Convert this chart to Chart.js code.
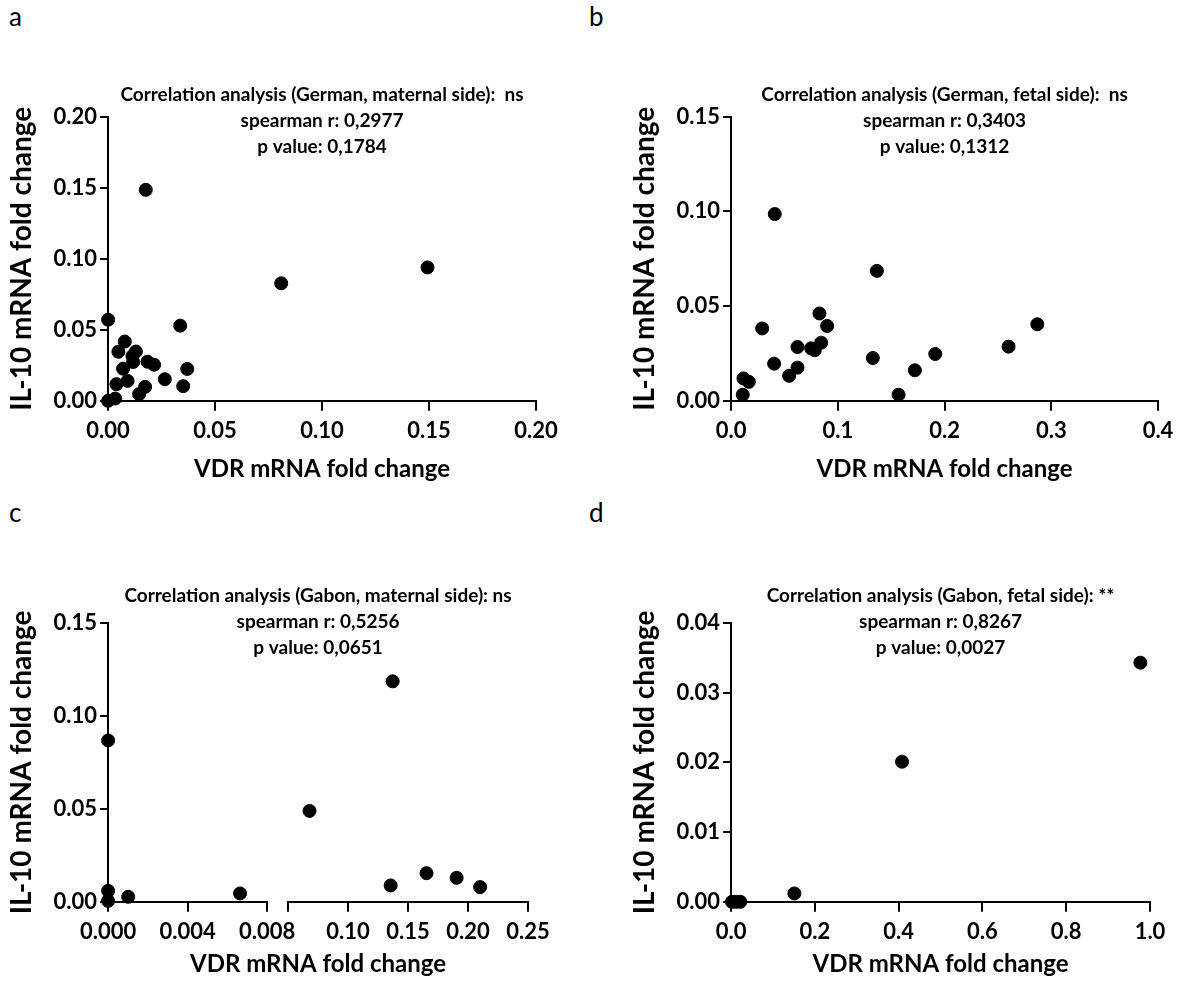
<!DOCTYPE html>
<html>
<head>
<meta charset="utf-8">
<script src="https://cdn.jsdelivr.net/npm/chart.js@4.4.1/dist/chart.umd.min.js"></script>
<style>
  body { margin: 0; background: #fff; width: 1199px; height: 982px; position: relative; overflow: hidden; }
  .panel { position: absolute; width: 595px; height: 490px; }
  .letter { position: absolute; font-family: Lato, sans-serif; font-size: 26px; color: #000; }
</style>
</head>
<body>
<div class="letter" style="left:9px;top:0px">a</div>
<div class="letter" style="left:589px;top:0px">b</div>
<div class="letter" style="left:9px;top:496px">c</div>
<div class="letter" style="left:589px;top:496px">d</div>
<div class="panel" style="left:0px;top:0px"><canvas id="chartA"></canvas></div>
<div class="panel" style="left:623px;top:0px"><canvas id="chartB"></canvas></div>
<div class="panel" style="left:0px;top:501px"><canvas id="chartC"></canvas></div>
<div class="panel" style="left:623px;top:501px"><canvas id="chartD"></canvas></div>
<script>
// Värden

let germanMaternalVdr = [0.0176, 0.1493, 0.0809, 0.0, 0.0337, 0.0078, 0.0048, 0.0130, 0.0114, 0.0117, 0.0184, 0.0215, 0.0070, 0.0370, 0.0265, 0.0091, 0.0039, 0.0351, 0.0173, 0.0145, 0.0033, 0.0]
let germanMaternalIl10 = [0.1485, 0.0939, 0.0827, 0.0571, 0.0529, 0.0417, 0.0345, 0.0347, 0.0315, 0.0273, 0.0275, 0.0254, 0.0226, 0.0224, 0.0152, 0.0140, 0.0117, 0.0103, 0.0098, 0.0047, 0.0016, 0.0]

let germanFetalVdr = [0.0409, 0.1366, 0.0828, 0.0900, 0.0291, 0.2869, 0.0844, 0.0622, 0.0750, 0.0784, 0.2600, 0.1913, 0.1328, 0.0403, 0.0622, 0.1722, 0.0544, 0.0116, 0.0166, 0.0109, 0.1569]
let germanFetalIl10 = [0.0986, 0.0686, 0.0461, 0.0395, 0.0382, 0.0404, 0.0307, 0.0284, 0.0277, 0.0267, 0.0286, 0.0247, 0.0226, 0.0196, 0.0175, 0.0161, 0.0132, 0.0118, 0.0100, 0.0032, 0.0032]

let gabonMaternalVdr = [0.0, 0.0, 0.0, 0.00101, 0.00664, 0.0679, 0.1372, 0.1355, 0.1654, 0.1905, 0.2101]
let gabonMaternalIl10 = [0.0868, 0.0059, 0.0005, 0.0027, 0.0045, 0.0489, 0.1186, 0.0088, 0.0154, 0.0129, 0.0079]

let gabonFetalVdr = [0.977, 0.408, 0.151, 0.002, 0.012, 0.022]
let gabonFetalIl10 = [0.0343, 0.0201, 0.0012, 0.0, 0.0, 0.0]

let titles = [
  ['Correlation analysis (German, maternal side):  ns', 'spearman r: 0,2977', 'p value: 0,1784'],
  ['Correlation analysis (German, fetal side):  ns', 'spearman r: 0,3403', 'p value: 0,1312'],
  ['Correlation analysis (Gabon, maternal side): ns', 'spearman r: 0,5256', 'p value: 0,0651'],
  ['Correlation analysis (Gabon, fetal side): **', 'spearman r: 0,8267', 'p value: 0,0027'],
]
let xTitle = 'VDR mRNA fold change'
let yTitle = 'IL-10 mRNA fold change'
let gabonBreak = 0.008

let font = 'Lato'

// Gör om två listor till punkter

function toPoints(xs, ys) {
  let points = []
  for (let i = 0; i < xs.length; i++) {
    points.push({ x: xs[i], y: ys[i] })
  }
  return points
}

function dataset(points, xAxisID) {
  return {
    data: points,
    xAxisID: xAxisID || 'x',
    backgroundColor: '#000',
    borderColor: '#000',
    pointRadius: 6.5,
    pointHoverRadius: 6.5,
    clip: false,
  }
}

function axis(min, max, step, decimals, title, vertical) {
  return {
    type: 'linear',
    min: min,
    max: max,
    grid: { drawOnChartArea: false, color: '#000', lineWidth: 2, tickLength: vertical ? 8 : 10 },
    border: { color: '#000', width: 2 },
    ticks: {
      stepSize: step,
      color: '#000',
      padding: vertical ? 3 : 7,
      maxRotation: 0,
      minRotation: 0,
      autoSkip: false,
      font: { family: font, size: 22, weight: 'bold' },
      callback: (v) => v.toFixed(decimals),
    },
    title: {
      display: !!title,
      text: title,
      color: '#000',
      padding: vertical ? { top: 0, bottom: 12 } : { top: 4, bottom: 0 },
      font: { family: font, size: vertical ? 28 : 24, weight: 'bold' },
    },
  }
}

function options(titleLines, scales, right, titleBottom) {
  return {
    responsive: false,
    animation: false,
    layout: { padding: { left: 5, right: right, top: 0, bottom: 6 } },
    plugins: {
      legend: { display: false },
      tooltip: { enabled: false },
      title: {
        display: true,
        text: titleLines,
        fullSize: false,
        color: '#000',
        font: { family: font, size: 19, weight: 'bold', lineHeight: 1.368 },
        padding: { top: 82, bottom: titleBottom },
      },
    },
    scales: scales,
  }
}

function makeChart(id, datasets, titleLines, scales, right, titleBottom) {
  let canvas = document.getElementById(id)
  canvas.width = 595
  canvas.height = 490
  new Chart(canvas, {
    type: 'scatter',
    data: { datasets: datasets },
    options: options(titleLines, scales, right, titleBottom),
  })
}

// a
makeChart('chartA', [dataset(toPoints(germanMaternalVdr, germanMaternalIl10))], titles[0], {
  x: axis(0, 0.2, 0.05, 2, xTitle),
  y: axis(0, 0.2, 0.05, 2, yTitle, true),
}, 59, -43.3)

// b
makeChart('chartB', [dataset(toPoints(germanFetalVdr, germanFetalIl10))], titles[1], {
  x: axis(0, 0.4, 0.1, 1, xTitle),
  y: axis(0, 0.15, 0.05, 2, yTitle, true),
}, 60, -43.3)

// c, bruten x-axel: tre staplade x-axlar (låg del, glapp, hög del) och en axel bara för titeln
let gabonLow = toPoints(gabonMaternalVdr, gabonMaternalIl10).filter((p) => p.x <= gabonBreak)
let gabonHigh = toPoints(gabonMaternalVdr, gabonMaternalIl10).filter((p) => p.x > gabonBreak)

let xLow = axis(0, 0.008, 0.004, 3)
xLow.stack = 'vdr'
xLow.stackWeight = 159
let xGap = axis(0, 1, 1, 0)
xGap.stack = 'vdr'
xGap.stackWeight = 21
xGap.grid.display = false
xGap.border.display = false
xGap.ticks.callback = () => ''
let xHigh = axis(0.05, 0.25, 0.05, 2)
xHigh.stack = 'vdr'
xHigh.stackWeight = 240
xHigh.ticks.callback = (v) => (v < 0.06 ? '' : v.toFixed(2))
let xLabel = axis(0, 1, 1, 0, xTitle)
xLabel.weight = 1
xLabel.grid.display = false
xLabel.grid.drawTicks = false
xLabel.border.display = false
xLabel.ticks.display = false
xLabel.title.padding = { top: -2, bottom: 6 }

makeChart('chartC', [dataset(gabonLow, 'xLow'), dataset(gabonHigh, 'xHigh')], titles[2], {
  xLow: xLow,
  xGap: xGap,
  xHigh: xHigh,
  xLabel: xLabel,
  y: axis(0, 0.15, 0.05, 2, yTitle, true),
}, 67, -38)

// d
let xGabonFetal = axis(0, 1.0, 0.2, 1, xTitle)
xGabonFetal.title.padding = { top: -2, bottom: 6 }

makeChart('chartD', [dataset(toPoints(gabonFetalVdr, gabonFetalIl10))], titles[3], {
  x: xGabonFetal,
  y: axis(0, 0.04, 0.01, 2, yTitle, true),
}, 68, -38)
</script>
</body>
</html>
